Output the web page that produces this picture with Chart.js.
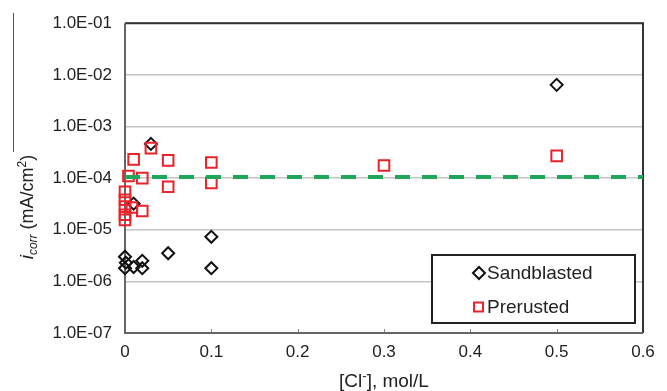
<!DOCTYPE html>
<html>
<head>
<meta charset="utf-8">
<script src="https://cdn.jsdelivr.net/npm/chart.js@4"></script>
<style>
  html, body { margin: 0; padding: 0; background: #fff; }
  #wrap { width: 667px; height: 391px; }
</style>
</head>
<body>
<div id="wrap"><canvas id="grafico"></canvas></div>
<script>
// dados
const sandX = [0.5, 0.03, 0.01, 0.05, 0.1, 0.1, 0, 0.001, 0, 0.01, 0.02, 0.02];
const sandY = [6.4e-3, 4.6e-4, 3.2e-5, 3.5e-6, 7.3e-6, 1.8e-6, 3.0e-6, 2.3e-6, 1.8e-6, 1.9e-6, 2.5e-6, 1.8e-6];

const rustX = [0.5, 0.3, 0.1, 0.1, 0.05, 0.05, 0.03, 0.01, 0.02, 0.004, 0.02, 0.008, 0, 0, 0, 0, 0];
const rustY = [2.7e-4, 1.75e-4, 2.0e-4, 8.1e-5, 2.2e-4, 6.8e-5, 3.8e-4, 2.3e-4, 1.0e-4, 1.1e-4, 2.3e-5, 2.7e-5, 5.4e-5, 3.8e-5, 2.8e-5, 1.95e-5, 1.55e-5];

const mediaX = [0, 0.6];
const mediaY = [1.05e-4, 1.05e-4];

const xTicks = [0, 0.1, 0.2, 0.3, 0.4, 0.5, 0.6];
const xTickLabels = ["0", "0.1", "0.2", "0.3", "0.4", "0.5", "0.6"];
const yTicks = [1e-7, 1e-6, 1e-5, 1e-4, 1e-3, 1e-2, 1e-1];
const yTickLabels = ["1.0E-07", "1.0E-06", "1.0E-05", "1.0E-04", "1.0E-03", "1.0E-02", "1.0E-01"];

const legendas = ["Sandblasted", "Prerusted"];

const FONTE = "'Liberation Sans', Arial, sans-serif";
const corTexto = "#222";

function pontos(xs, ys) {
    return xs.map((x, i) => ({ x: x, y: ys[i] }));
}

// moldura, marcas do eixo x, titulos e legenda
const extras = {
    id: "extras",
    beforeDatasetsDraw(chart) {
        const ctx = chart.ctx;
        const a = chart.chartArea;
        const sx = chart.scales.x;
        ctx.save();
        ctx.strokeStyle = "#888";
        ctx.lineWidth = 1;
        xTicks.slice(1, -1).forEach(v => {
            const px = Math.round(sx.getPixelForValue(v)) + 0.5;
            ctx.beginPath();
            ctx.moveTo(px, a.bottom);
            ctx.lineTo(px, a.bottom - 4);
            ctx.stroke();
        });
        // moldura
        ctx.lineWidth = 2;
        ctx.strokeStyle = "#333";
        ctx.beginPath();
        ctx.moveTo(a.left, a.top);
        ctx.lineTo(a.right, a.top);
        ctx.lineTo(a.right, a.bottom);
        ctx.stroke();
        ctx.strokeStyle = "#666";
        ctx.beginPath();
        ctx.moveTo(a.left, a.top);
        ctx.lineTo(a.left, a.bottom);
        ctx.lineTo(a.right, a.bottom);
        ctx.stroke();
        ctx.restore();
    },
    afterDraw(chart) {
        const ctx = chart.ctx;
        const a = chart.chartArea;
        ctx.save();

        // titulo do eixo x: [Cl-], mol/L
        ctx.fillStyle = corTexto;
        ctx.textBaseline = "alphabetic";
        const partesX = [
            { t: "[Cl", f: "19px " + FONTE, dy: 0 },
            { t: "-", f: "13px " + FONTE, dy: -7 },
            { t: "], mol/L", f: "19px " + FONTE, dy: 0 }
        ];
        desenharPartes(ctx, partesX, (a.left + a.right) / 2, 381);

        // titulo do eixo y: i_corr (mA/cm2)
        ctx.save();
        ctx.translate(27, 207);
        ctx.rotate(-Math.PI / 2);
        const partesY = [
            { t: "i", f: "italic 19px " + FONTE, dy: 0 },
            { t: "corr", f: "italic 12px " + FONTE, dy: 4 },
            { t: " (mA/cm", f: "18px " + FONTE, dy: 0 },
            { t: "2", f: "12px " + FONTE, dy: -7 },
            { t: ")", f: "18px " + FONTE, dy: 0 }
        ];
        desenharPartes(ctx, partesY, 0, 0);
        ctx.restore();

        // linha solta sobre o titulo
        ctx.strokeStyle = "#555";
        ctx.lineWidth = 1;
        ctx.beginPath();
        ctx.moveTo(13.5, 13);
        ctx.lineTo(13.5, 152);
        ctx.stroke();

        // legenda
        const bx = 432, by = 255, bw = 203, bh = 68;
        ctx.fillStyle = "#fff";
        ctx.fillRect(bx, by, bw, bh);
        ctx.strokeStyle = "#222";
        ctx.lineWidth = 2;
        ctx.strokeRect(bx, by, bw, bh);

        ctx.font = "19px " + FONTE;
        ctx.fillStyle = corTexto;
        ctx.textBaseline = "middle";
        ctx.textAlign = "left";

        // losango
        const d = chart.data.datasets;
        let cy = 273;
        ctx.strokeStyle = d[2].borderColor;
        ctx.lineWidth = 2;
        ctx.beginPath();
        ctx.moveTo(479 - 6, cy);
        ctx.lineTo(479, cy - 6);
        ctx.lineTo(479 + 6, cy);
        ctx.lineTo(479, cy + 6);
        ctx.closePath();
        ctx.stroke();
        ctx.fillText(legendas[0], 487, cy + 1);

        // quadrado
        cy = 307;
        ctx.strokeStyle = d[1].borderColor;
        ctx.strokeRect(474, cy - 4.5, 9, 9);
        ctx.fillText(legendas[1], 487, cy + 1);

        ctx.restore();
    }
};

function desenharPartes(ctx, partes, cx, baseY) {
    let total = 0;
    partes.forEach(p => { ctx.font = p.f; p.w = ctx.measureText(p.t).width; total += p.w; });
    let x = cx - total / 2;
    ctx.textAlign = "left";
    partes.forEach(p => {
        ctx.font = p.f;
        ctx.fillText(p.t, x, baseY + p.dy + 6);
        x += p.w;
    });
}

const ctx = document.getElementById("grafico").getContext("2d");

const grafico = new Chart(ctx, {
    type: "scatter",
    data: {
        datasets: [
            {
                label: "media",
                data: pontos(mediaX, mediaY),
                showLine: true,
                pointRadius: 0,
                borderColor: "#1fa65a",
                borderWidth: 4,
                borderDash: [15, 12],
                fill: false
            },
            {
                label: legendas[1],
                data: pontos(rustX, rustY),
                pointStyle: "rect",
                pointRadius: 7.5,
                pointBorderWidth: 2,
                borderColor: "#e8232a",
                backgroundColor: "rgba(255,255,255,0)",
                clip: false
            },
            {
                label: legendas[0],
                data: pontos(sandX, sandY),
                pointStyle: "rectRot",
                pointRadius: 6,
                pointBorderWidth: 2,
                borderColor: "#111",
                backgroundColor: "rgba(255,255,255,0)",
                clip: false
            }
        ]
    },
    options: {
        responsive: true,
        maintainAspectRatio: false,
        animation: false,
        events: [],
        layout: { padding: { top: 21, right: 24, left: 0, bottom: 0 } },
        plugins: {
            legend: { display: false },
            tooltip: { enabled: false }
        },
        scales: {
            x: {
                type: "linear",
                min: 0,
                max: 0.6,
                afterBuildTicks: scale => { scale.ticks = xTicks.map(v => ({ value: v })); },
                afterFit: scale => { scale.height = 58; },
                grid: { display: false, drawTicks: false },
                border: { display: false },
                ticks: {
                    padding: 9,
                    color: corTexto,
                    font: { family: FONTE, size: 17 },
                    maxRotation: 0,
                    callback: (v, i) => xTickLabels[i]
                }
            },
            y: {
                type: "logarithmic",
                min: 1e-7,
                max: 1e-1,
                afterBuildTicks: scale => { scale.ticks = yTicks.map(v => ({ value: v })); },
                afterFit: scale => { scale.width = 125; },
                grid: { color: "#c4c4c4", lineWidth: 1.5, drawTicks: false },
                border: { display: false },
                ticks: {
                    padding: 13,
                    color: corTexto,
                    font: { family: FONTE, size: 17 },
                    callback: (v, i) => yTickLabels[i]
                }
            }
        }
    },
    plugins: [extras]
});
</script>
</body>
</html>
